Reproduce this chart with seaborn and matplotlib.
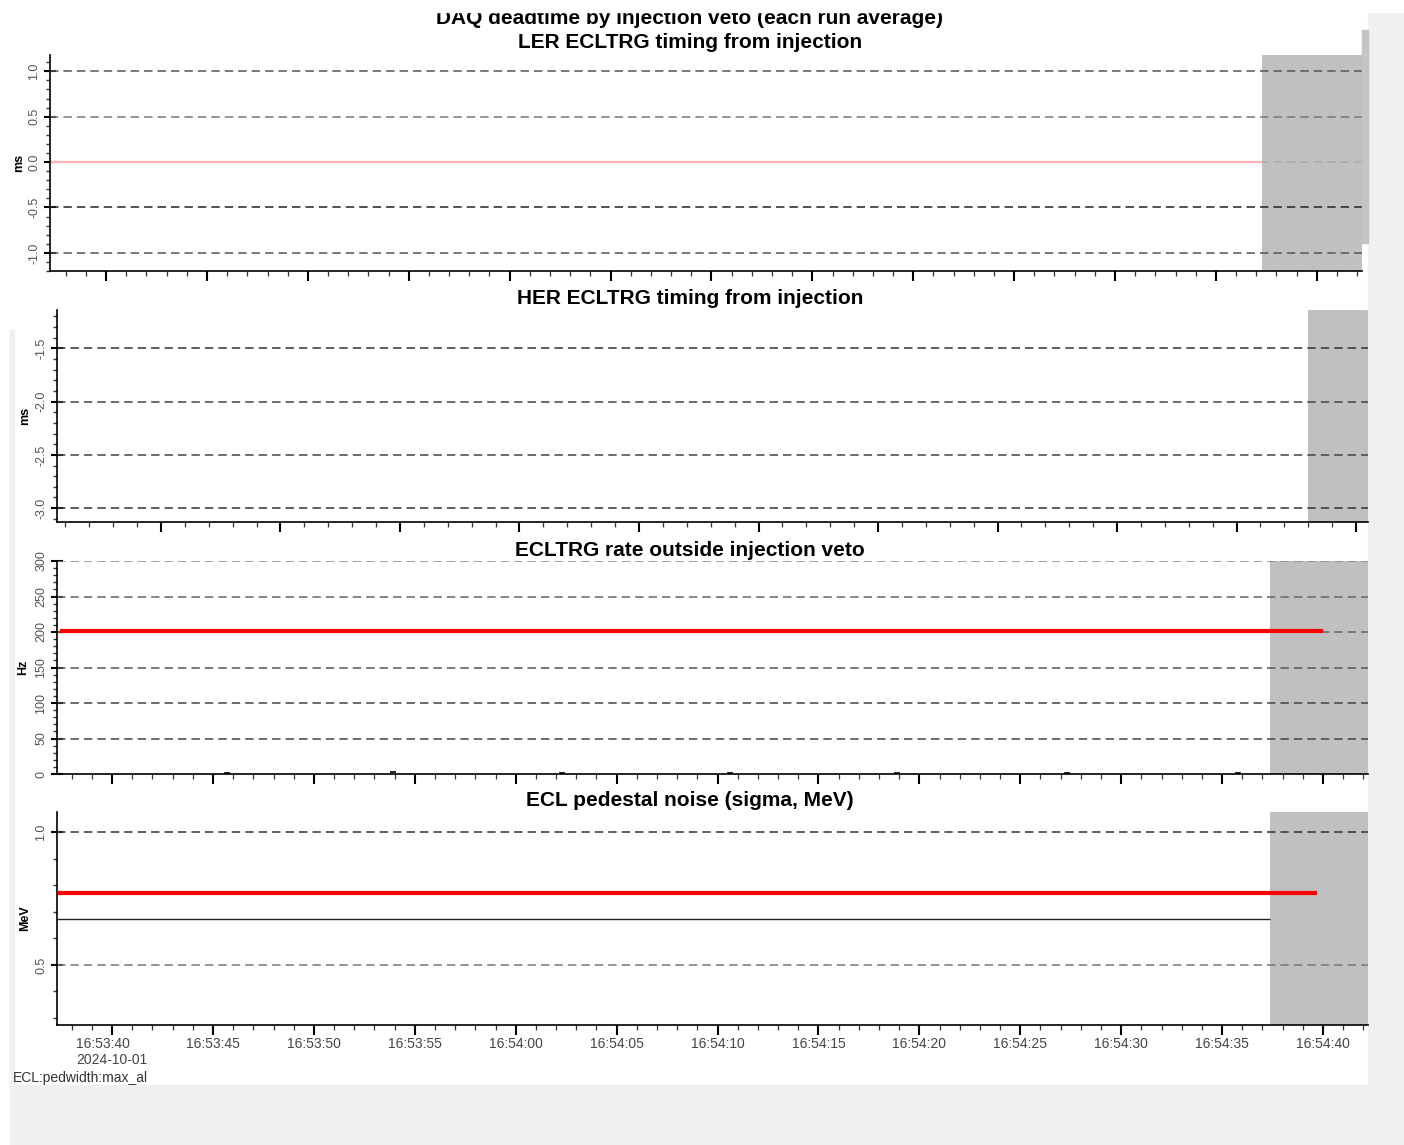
import numpy as np
import pandas as pd
import matplotlib
matplotlib.use("Agg")
import matplotlib.pyplot as plt
import matplotlib.dates as mdates
import matplotlib.ticker as mticker
from matplotlib.patches import Rectangle
import seaborn as sns

# ---------------- data ----------------
DAY = "2024-10-01 "
ler_time = ["16:53:37.2", "16:54:37.28"]
ler_value = [0.0, 0.0]

rate_time = ["16:53:37.4", "16:54:40.0"]
rate_value = [201, 201]
rate_small_time = ["16:53:45.7", "16:53:53.9", "16:54:02.3", "16:54:10.6",
                   "16:54:18.9", "16:54:27.3", "16:54:35.8"]
rate_small_value = [1.5, 2.8, 1.0, 1.2, 1.0, 1.0, 1.0]

ped_time = ["16:53:37.3", "16:54:39.7"]
ped_value = [0.77, 0.77]
ped_ref_time = ["16:53:37.2", "16:54:37.35"]
ped_ref_value = [0.673, 0.673]

veto_start = ["16:54:37.28", "16:54:33.0", "16:54:37.35", "16:54:37.35"]
x_limits = [("16:53:37.22", "16:54:42.24"),
            ("16:53:40.65", "16:54:35.50"),
            ("16:53:37.27", "16:54:42.23"),
            ("16:53:37.27", "16:54:42.23")]

titles = ["LER ECLTRG timing from injection",
          "HER ECLTRG timing from injection",
          "ECLTRG rate outside injection veto",
          "ECL pedestal noise (sigma, MeV)"]
suptitle = "DAQ deadtime by injection veto (each run average)"
ylabels = ["ms", "ms", "Hz", "MeV"]
y_limits = [(-1.2, 1.18), (-3.13, -1.14), (0, 300), (0.274, 1.075)]
y_major = [0.5, 0.5, 50, 0.5]
y_minor = [0.1, 0.1, 10, 0.1]
grid_values = [[1.0, 0.5, 0.0, -0.5, -1.0],
               [-1.5, -2.0, -2.5, -3.0],
               [300, 250, 200, 150, 100, 50],
               [1.0, 0.5]]
grid_colors = [["#555555", "#777777", "#aaaaaa", "#222222", "#555555"],
               ["#333333", "#444444", "#444444", "#333333"],
               ["#888888", "#666666", "#666666", "#555555", "#444444", "#444444"],
               ["#333333", "#777777"]]
footer = "ECL:pedwidth:max_al"


def ts(lst):
    return pd.to_datetime([DAY + t for t in lst])


# ---------------- figure ----------------
sns.set_theme(style="white")
plt.rcParams["font.family"] = ["Liberation Sans", "DejaVu Sans"]

W, H = 1404, 1145
fig = plt.figure(figsize=(W / 100, H / 100), dpi=100, facecolor="white")

boxes = [(50, 55, 1362, 271), (57, 310, 1368, 522),
         (57, 561, 1368, 774), (57, 812, 1368, 1025)]
ylab_x = [25, 31, 29, 31]
title_y = [43, 299, 550, 801]

axes = []
for i, (x0, y0, x1, y1) in enumerate(boxes):
    ax = fig.add_axes([x0 / W, 1 - y1 / H, (x1 - x0) / W, (y1 - y0) / H])
    axes.append(ax)

# backgrounds / artefacts of the original screenshot
fig.add_artist(Rectangle((1368 / W, 0), (W - 1368) / W, 1 - 12 / H,
                         transform=fig.transFigure, color="#f0f0f0", zorder=-5))
fig.add_artist(Rectangle((10 / W, 0), (W - 10) / W, (H - 1085) / H,
                         transform=fig.transFigure, color="#f0f0f0", zorder=-5))
fig.add_artist(Rectangle((10 / W, 1 - 1085 / H), 4 / W, (1085 - 330) / H,
                         transform=fig.transFigure, color="#f0f0f0", zorder=-5))
fig.add_artist(Rectangle((1362 / W, 1 - 243 / H), 6 / W, (243 - 30) / H,
                         transform=fig.transFigure, color="#c4c4c4", zorder=5))

for i, ax in enumerate(axes):
    xl = ts(x_limits[i])
    ax.set_xlim(xl[0], xl[1])
    ax.set_ylim(*y_limits[i])
    ax.set_facecolor("white")
    # veto shading
    ax.axvspan(ts([veto_start[i]])[0], xl[1], color="#c0c0c0", lw=0, zorder=1)
    # dashed grid
    for gv, gc in zip(grid_values[i], grid_colors[i]):
        ax.axhline(gv, color=gc, lw=1.1, ls=(0, (5.5, 3.3)), zorder=2)

    for s in ["top", "right"]:
        ax.spines[s].set_visible(False)
    for s in ["left", "bottom"]:
        ax.spines[s].set_color("black")
        ax.spines[s].set_linewidth(1.2)
        ax.spines[s].set_zorder(6)

    ax.yaxis.set_major_locator(mticker.MultipleLocator(y_major[i]))
    ax.yaxis.set_minor_locator(mticker.MultipleLocator(y_minor[i]))
    if i == 2:
        ax.yaxis.set_major_formatter(mticker.FormatStrFormatter("%d"))
    else:
        ax.yaxis.set_major_formatter(mticker.FormatStrFormatter("%.1f"))
    ax.xaxis.set_major_locator(mdates.SecondLocator(bysecond=range(0, 60, 5)))
    ax.xaxis.set_minor_locator(mdates.SecondLocator())

    ax.tick_params(axis="y", which="major", direction="inout", length=8,
                   width=1.5, color="black", pad=3, labelsize=9,
                   labelcolor="#555555", labelrotation=90, left=True)
    ax.tick_params(axis="y", which="minor", direction="out", length=3,
                   width=1.0, color="#333333", left=True)
    ax.tick_params(axis="x", which="major", direction="out", length=7.2,
                   width=1.5, color="black", pad=1.5, labelsize=10,
                   labelcolor="#444444", bottom=True)
    ax.tick_params(axis="x", which="minor", direction="out", length=3.5,
                   width=0.9, color="#333333", bottom=True)
    if i < 3:
        ax.tick_params(axis="x", labelbottom=False)

# ---- data marks ----
df_ler = pd.DataFrame({"t": ts(ler_time), "v": ler_value})
sns.lineplot(data=df_ler, x="t", y="v", ax=axes[0], color="#ffb3b3", lw=1.6,
             zorder=3, solid_capstyle="butt")

df_rate = pd.DataFrame({"t": ts(rate_time), "v": rate_value})
sns.lineplot(data=df_rate, x="t", y="v", ax=axes[2], color="#ff0000", lw=3.0,
             zorder=4, solid_capstyle="butt")
df_small = pd.DataFrame({"t": ts(rate_small_time), "v": rate_small_value})
sns.scatterplot(data=df_small, x="t", y="v", ax=axes[2], marker="_", s=25,
                color="black", linewidth=1.2, zorder=7, clip_on=False)

df_ref = pd.DataFrame({"t": ts(ped_ref_time), "v": ped_ref_value})
sns.lineplot(data=df_ref, x="t", y="v", ax=axes[3], color="#222222", lw=1.0,
             zorder=3, solid_capstyle="butt")
df_ped = pd.DataFrame({"t": ts(ped_time), "v": ped_value})
sns.lineplot(data=df_ped, x="t", y="v", ax=axes[3], color="#ff0000", lw=3.0,
             zorder=4, solid_capstyle="butt")

for i, ax in enumerate(axes):
    ax.set_xlabel("")
    if ax.get_legend():
        ax.get_legend().remove()
    ax.set_ylabel(ylabels[i], fontsize=9, fontweight="bold", color="black")
    x0b, _, x1b, _ = boxes[i]
    ax.yaxis.set_label_coords((ylab_x[i] - x0b) / (x1b - x0b), 0.5)

first_tick = ts(["16:53:40"])[0]


def xfmt(x, pos=None):
    d = mdates.num2date(x).replace(tzinfo=None)
    s = d.strftime("%H:%M:%S")
    if abs((pd.Timestamp(d) - first_tick).total_seconds()) < 0.01:
        s += "\n" + d.strftime("%Y-%m-%d")
    return s


axes[3].xaxis.set_major_formatter(mticker.FuncFormatter(xfmt))
for ax in axes[:3]:
    ax.xaxis.set_major_formatter(mticker.NullFormatter())

# ---- titles ----
fig.text(690 / W, 1 - 18 / H, suptitle, ha="center", va="center",
         fontsize=15, fontweight="bold", color="black")
for i, t in enumerate(titles):
    fig.text(690 / W, 1 - title_y[i] / H, t, ha="center", va="center",
             fontsize=15, fontweight="bold", color="black")
fig.add_artist(Rectangle((0, 1 - 12 / H), 1, 12 / H, transform=fig.transFigure,
                         color="white", zorder=20))
fig.text(13 / W, 1 - 1078 / H, footer, ha="left", va="center", fontsize=10,
         color="#333333")

fig.canvas.draw()
for lab in axes[3].get_xticklabels():
    lab.set_multialignment("left")
for ax in axes:
    for lab in ax.get_yticklabels():
        lab.set_va("center")

fig.savefig("out.png", dpi=100, facecolor="white")
